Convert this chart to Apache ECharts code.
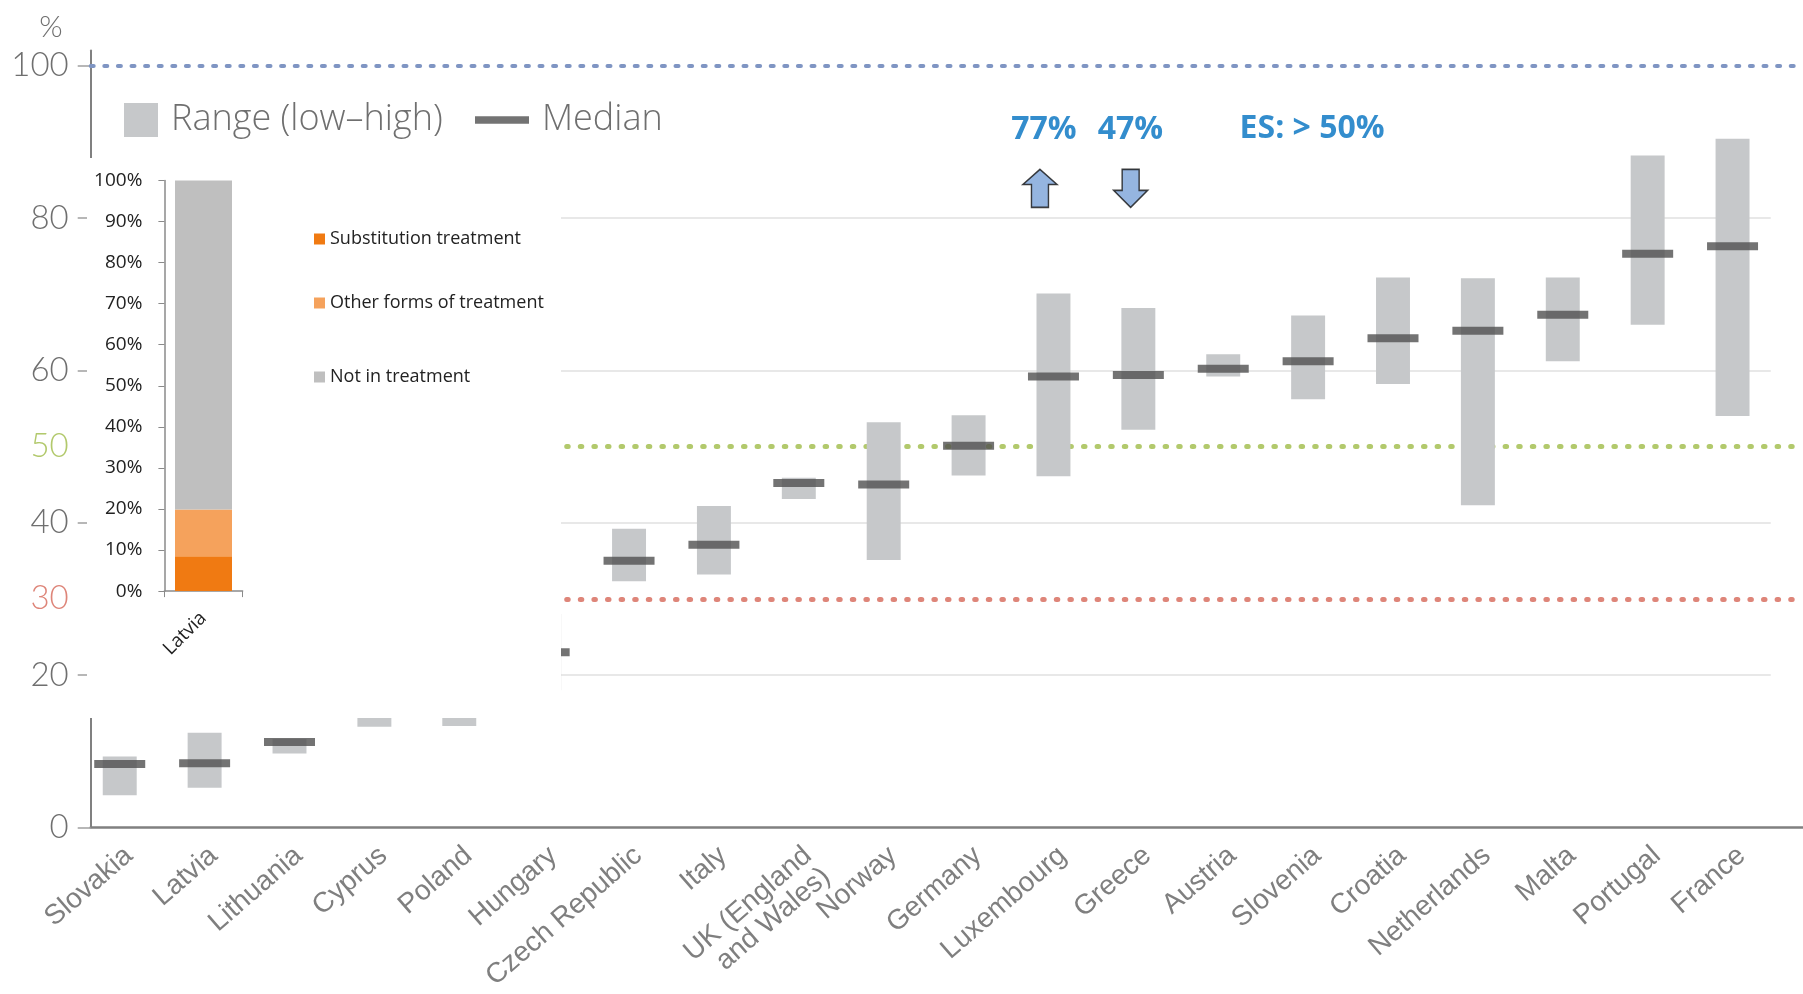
<!DOCTYPE html>
<html><head><meta charset="utf-8">
<script src="https://cdn.jsdelivr.net/npm/echarts@6/dist/echarts.min.js"></script>
<style>html,body{margin:0;padding:0;background:#fff}#c{width:1803px;height:994px}</style>
</head><body><div id="c"></div>
<script>
// ---- data ----
const countries = ['Slovakia','Latvia','Lithuania','Cyprus','Poland','Hungary','Czech Republic','Italy','UK (England\nand Wales)','Norway','Germany','Luxembourg','Greece','Austria','Slovenia','Croatia','Netherlands','Malta','Portugal','France'];
const lowValues    = [4.2, 5.2, 9.7, 13.2, 13.3, 18.0, 32.3, 33.2, 43.1, 35.1, 46.2, 46.1, 52.2, 59.2, 56.2, 58.2, 42.3, 61.2, 66.0, 54.0];
const highValues   = [9.3, 12.4, 11.6, 30.0, 29.0, 28.0, 39.2, 42.2, 45.9, 53.2, 54.1, 70.1, 68.2, 62.1, 67.2, 72.2, 72.1, 72.2, 88.2, 90.4];
const medianValues = [8.3, 8.4, 11.2, 20.0, 21.0, 23.0, 35.0, 37.1, 45.2, 45.0, 50.1, 59.2, 59.4, 60.2, 61.2, 64.2, 65.2, 67.3, 75.3, 76.3];
const yLabelValues = [0, 20, 30, 40, 50, 60, 80, 100];
const yTickValues = [0, 20, 40, 60, 80, 100];
const gridLineValues = [20, 40, 60, 80];
const refLines = [100, 50, 30];
const annotationTexts = ['77%', '47%', 'ES: > 50%'];
const annotationCountries = ['Luxembourg', 'Greece', 'Slovenia'];
const annotationY = [91.55, 91.55, 91.7];
const arrowCountries = ['Luxembourg', 'Greece'];
const arrowY = [83.9, 83.9];
const insetCategories = ['Latvia'];
const insetSubstitution = [8.5];
const insetOther = [11.4];
const insetNotTreated = [80.1];

// ---- styles ----
const GRAY_TXT = '#6f6f6f';
const upArrow = 'path://M50,0 L100,45 L75,45 L75,113 L25,113 L25,45 L0,45 Z';
const downArrow = 'path://M25,0 L75,0 L75,62 L100,62 L50,112 L0,62 L25,62 Z';
const annOffsets = [[-9.5, 0], [-8, 0], [4, 0]];
const arrowOffsets = [[-13.5, 0], [-7.7, 0]];
const refStyles = {
  100: {color: '#7F95C3', width: 4, type: [3, 10.6]},
  50:  {color: '#B2C96C', width: 5, type: [1.5, 12.1]},
  30:  {color: '#DE8579', width: 5, type: [1.5, 12.1]}
};
const insetLegendText = {fontSize: 18, color: '#222', fontFamily: 'Open Sans'};
const mainLegendText = {fontSize: 36, color: GRAY_TXT, fontFamily: 'Open Sans', fontWeight: 300, padding: [0, 0, 0, 8]};

const chart = echarts.init(document.getElementById('c'), null, {renderer: 'canvas'});
const idx = c => countries.indexOf(c);
const xMin = -0.342, xMax = 19.83;

const option = {
  animation: false,
  backgroundColor: '#fff',
  textStyle: {fontFamily: 'Lato'},
  grid: [
    {left: 90.7, right: 0, top: 50.5, bottom: 166.7},
    {left: 164.4, top: 180.5, width: 78.2, height: 410.6, z: 30}
  ],
  graphic: [{
    type: 'rect', z: 20, silent: true,
    shape: {x: 87, y: 158, width: 474, height: 560},
    style: {fill: '#ffffff'}
  }],
  legend: [
    {data: ['Range (low–high)'], left: 124, top: 102, itemWidth: 34, itemHeight: 34, icon: 'rect',
     selectedMode: false, padding: 0, textStyle: mainLegendText},
    {data: ['Median'], left: 475, top: 102, itemWidth: 54, itemHeight: 34,
     icon: 'path://M0,0H56V8H0Z', selectedMode: false, padding: 0, textStyle: mainLegendText},
    {data: ['Substitution treatment'], left: 314, top: 230, itemWidth: 11, itemHeight: 11, icon: 'rect', z: 30,
     selectedMode: false, padding: 0, textStyle: insetLegendText},
    {data: ['Other forms of treatment'], left: 314, top: 294, itemWidth: 11, itemHeight: 11, icon: 'rect', z: 30,
     selectedMode: false, padding: 0, textStyle: insetLegendText},
    {data: ['Not in treatment'], left: 314, top: 368, itemWidth: 11, itemHeight: 11, icon: 'rect', z: 30,
     selectedMode: false, padding: 0, textStyle: insetLegendText}
  ],
  xAxis: [
    {type: 'value', gridIndex: 0, min: xMin, max: xMax,
     axisLine: {show: true, onZero: false, lineStyle: {color: '#808080', width: 2.5}},
     axisTick: {show: false},
     splitLine: {show: false},
     axisLabel: {customValues: countries.map((c, i) => i), formatter: v => countries[Math.round(v)] || '',
       rotate: 41, margin: 14, verticalAlign: 'top', fontSize: 28, color: '#7f7f7f', fontFamily: 'Liberation Sans', lineHeight: 28}},
    {type: 'category', gridIndex: 1, data: insetCategories, z: 30,
     axisLine: {show: true, lineStyle: {color: '#8a8a8a', width: 1.5}},
     axisTick: {show: true, length: 6, lineStyle: {color: '#8a8a8a'}},
     axisLabel: {rotate: 45, margin: 24, fontSize: 19, color: '#222', fontFamily: 'Open Sans'}}
  ],
  yAxis: [
    {type: 'value', gridIndex: 0, min: 0, max: 102,
     name: '%', nameLocation: 'end', nameGap: 8,
     nameTextStyle: {fontSize: 30, color: GRAY_TXT, fontFamily: 'Lato', fontWeight: 300, align: 'right', padding: [0, 28, 0, 0]},
     axisLine: {show: true, onZero: false, lineStyle: {color: '#808080', width: 2}},
     axisTick: {show: true, customValues: yTickValues, length: 13, lineStyle: {color: '#a0a0a0', width: 1.5}},
     splitLine: {show: false},
     axisLabel: {customValues: yLabelValues, margin: 22, fontSize: 33, color: GRAY_TXT, fontFamily: 'Lato', fontWeight: 300,
       formatter: v => v === 50 ? '{g|50}' : (v === 30 ? '{r|30}' : String(v)),
       rich: {g: {color: '#B2C96C', fontSize: 33, fontFamily: 'Lato', fontWeight: 300},
              r: {color: '#DE8579', fontSize: 33, fontFamily: 'Lato', fontWeight: 300}}}},
    {type: 'value', gridIndex: 1, min: 0, max: 100, interval: 10, z: 30,
     axisLine: {show: true, lineStyle: {color: '#8a8a8a', width: 1.5}},
     axisTick: {show: true, length: 6, lineStyle: {color: '#8a8a8a'}},
     splitLine: {show: false},
     axisLabel: {formatter: '{value}%', fontSize: 19, color: '#222', fontFamily: 'Open Sans', margin: 22}}
  ],
  series: [
    {
      name: 'Range (low–high)', type: 'custom', xAxisIndex: 0, yAxisIndex: 0, z: 2,
      itemStyle: {color: '#C6C8CA'},
      data: countries.map((c, i) => [i, lowValues[i], highValues[i]]),
      renderItem: (params, api) => {
        const x = api.value(0);
        const top = api.coord([x, api.value(2)]);
        const bot = api.coord([x, api.value(1)]);
        const w = api.size([1, 0])[0] * 0.40;
        return {type: 'rect', shape: {x: top[0] - w / 2, y: top[1], width: w, height: bot[1] - top[1]},
                style: {fill: '#C6C8CA'}};
      },
      markLine: {
        silent: true, symbol: 'none', label: {show: false}, z: 1,
        data: gridLineValues.map(v => [
          {coord: [xMin, v], lineStyle: {color: '#E0E0E0', width: 1.5, type: 'solid'}},
          {coord: [countries.length - 0.55, v]}
        ]).concat(refLines.map(v => ({yAxis: v, lineStyle: Object.assign({cap: 'round'}, refStyles[v])})))
      }
    },
    {
      name: 'Median', type: 'scatter', xAxisIndex: 0, yAxisIndex: 0, z: 3,
      symbol: 'rect', symbolSize: [51, 8], itemStyle: {color: '#505050'},
      data: countries.map((c, i) => [i, medianValues[i]])
    },
    {
      name: 'arrows', type: 'scatter', xAxisIndex: 0, yAxisIndex: 0, z: 5, silent: true,
      symbolSize: [34, 38],
      itemStyle: {color: '#7BA3D8', borderColor: '#111', borderWidth: 1.5},
      data: arrowCountries.map((c, k) => ({value: [idx(c), arrowY[k]], symbol: k === 0 ? upArrow : downArrow, symbolOffset: arrowOffsets[k]}))
    },
    {
      name: 'annotations', type: 'scatter', xAxisIndex: 0, yAxisIndex: 0, z: 5, silent: true,
      symbolSize: 1, itemStyle: {color: 'rgba(0,0,0,0)'},
      label: {show: true, position: 'inside', fontSize: 32, fontWeight: 'bold', color: '#0070C0', fontFamily: 'Open Sans'},
      data: annotationCountries.map((c, k) => ({value: [idx(c), annotationY[k]],
        label: {formatter: annotationTexts[k], offset: annOffsets[k]}}))
    },
    {name: 'Substitution treatment', type: 'bar', stack: 'inset', xAxisIndex: 1, yAxisIndex: 1, z: 30,
     barWidth: 57, itemStyle: {color: '#F07A12'}, data: insetSubstitution},
    {name: 'Other forms of treatment', type: 'bar', stack: 'inset', xAxisIndex: 1, yAxisIndex: 1, z: 30,
     barWidth: 57, itemStyle: {color: '#F5A25C'}, data: insetOther},
    {name: 'Not in treatment', type: 'bar', stack: 'inset', xAxisIndex: 1, yAxisIndex: 1, z: 30,
     barWidth: 57, itemStyle: {color: '#BFBFBF'}, data: insetNotTreated}
  ]
};
chart.setOption(option);
</script></body></html>
